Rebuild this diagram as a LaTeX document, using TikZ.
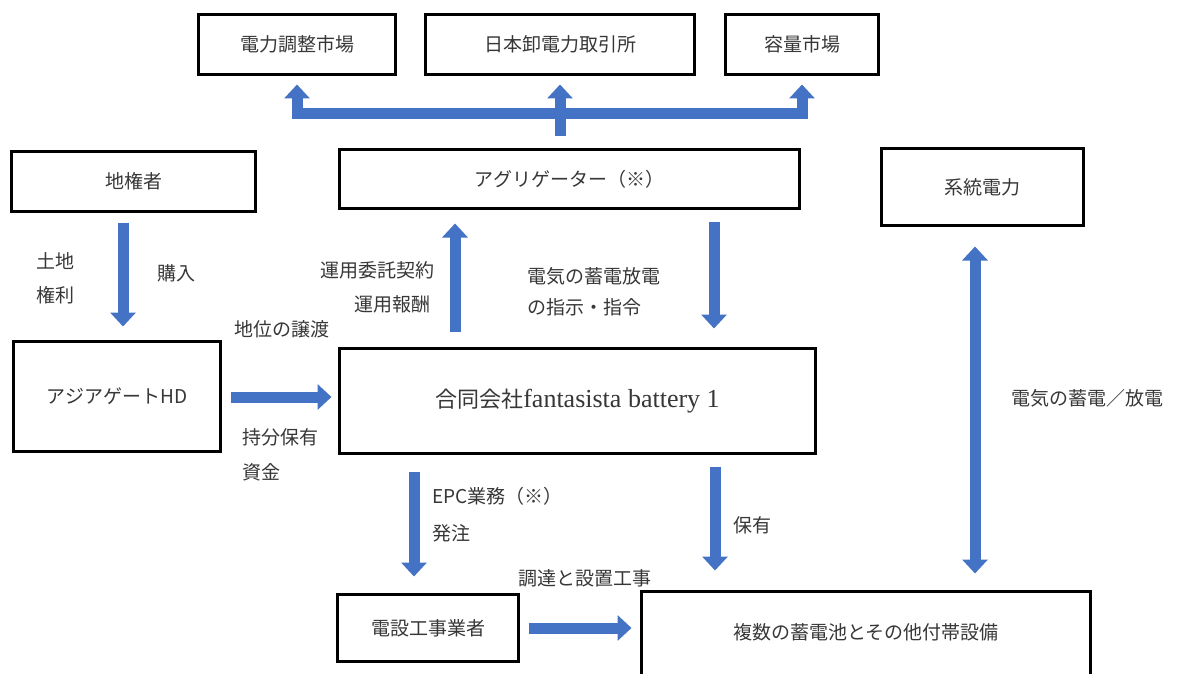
\documentclass[tikz,border=0pt]{standalone}
\usepackage{fontspec}
\newfontfamily\jp{Noto Sans CJK JP}
\newfontfamily\lat{Liberation Serif}
\usetikzlibrary{arrows.meta,calc}
\definecolor{arrowblue}{RGB}{68,114,196}
\definecolor{txt}{RGB}{55,55,55}
\begin{document}
\begin{tikzpicture}[x=1pt,y=-1pt,
  box/.style={draw=black, line width=3pt, rectangle, inner sep=0pt, fill=white,
    font=\jp\fontsize{19}{23}\selectfont, text=txt},
  lbl/.style={inner sep=0pt, font=\jp\fontsize{19}{23}\selectfont, text=txt},
  barrow/.style={draw=arrowblue, line width=11pt, -{Triangle[width=25pt,length=14pt]}},
  dbarrow/.style={draw=arrowblue, line width=11pt, {Triangle[width=25pt,length=14pt]}-{Triangle[width=25pt,length=14pt]}},
  bline/.style={draw=arrowblue, line width=11pt},
]
\useasboundingbox (0,0) rectangle (1178,674);
\clip (0,0) rectangle (1178,674);
\fill[white] (0,0) rectangle (1178,674);

% boxes
\node[box, minimum width=197pt, minimum height=60pt] (ch) at (297,44.5) {電力調整市場};
\node[box, minimum width=269pt, minimum height=60pt] (jepx) at (560,44.5) {日本卸電力取引所};
\node[box, minimum width=153pt, minimum height=60pt] (yoryo) at (802,44.5) {容量市場};
\node[box, minimum width=460pt, minimum height=59pt] (agg) at (569.5,179) {アグリゲーター（※）};
\node[box, minimum width=244pt, minimum height=60pt] (jisha) at (133.5,181.5) {地権者};
\node[box, minimum width=202pt, minimum height=77pt] (keito) at (982.5,187) {系統電力};
\node[box, minimum width=207pt, minimum height=110pt] (ahd) at (117,396.5) {アジアゲートHD};
\node[box, minimum width=476pt, minimum height=105pt] (ff) at (577.5,401)
  {\fontsize{22}{26}\selectfont 合同会社{\lat\fontsize{26}{30}\selectfont fantasista battery 1}};
\node[box, minimum width=181pt, minimum height=67pt] (dk) at (428,628) {電設工事業者};
\node[box, minimum width=449pt, minimum height=120pt] (bat) at (866,651.5) {};
\node[lbl] (batlbl) at ([yshift=-42pt]bat.north) {複数の蓄電池とその他付帯設備};

% market distribution arrows
\path (jepx.south) ++(0,37.5) coordinate (bus);
\draw[bline, line cap=rect] (ch.south |- bus) -- (yoryo.south |- bus);
\draw[bline, shorten >=11.5pt] (bus) -- (agg.north -| bus);
\draw[barrow] (ch.south |- bus) -- ([yshift=-8.5pt]ch.south);
\draw[barrow] (bus) -- ([yshift=-8.5pt]jepx.south);
\draw[barrow] (yoryo.south |- bus) -- ([yshift=-8.5pt]yoryo.south);

% other arrows
\draw[barrow] ([xshift=-10.5pt,yshift=-9.5pt]jisha.south) -- ([xshift=6pt,yshift=13.5pt]ahd.north);
\draw[barrow] ([xshift=8.5pt,yshift=-0.5pt]ahd.east) -- ([xshift=-6.5pt,yshift=4pt]ff.west);
\draw[barrow] ([xshift=-122.5pt,yshift=15.5pt]ff.north) -- ([xshift=-114.5pt,yshift=-13.5pt]agg.south);
\draw[barrow] ([xshift=144.5pt,yshift=-11.5pt]agg.south) -- ([xshift=136.5pt,yshift=18.5pt]ff.north);
\draw[barrow] ([xshift=-163.5pt,yshift=-16.5pt]ff.south) -- ([xshift=-14pt,yshift=16.5pt]dk.north);
\draw[barrow] ([xshift=137.5pt,yshift=-11.5pt]ff.south) -- ([xshift=-151pt,yshift=19.5pt]bat.north);
\draw[barrow] ([xshift=8.5pt]dk.east) -- ([xshift=-8.5pt,yshift=23.5pt]bat.west);
\draw[dbarrow] ([xshift=-7.5pt,yshift=-19.5pt]keito.south) -- ([xshift=109pt,yshift=16.5pt]bat.north);

% labels
\node[lbl] (l1) at (55,261) {土地};
\node[lbl] (l2) at (55,295) {権利};
\node[lbl] (l3) at (176,273) {購入};
\node[lbl] (l4) at (377,270) {運用委託契約};
\node[lbl] (l5) at (392,304) {運用報酬};
\node[lbl, anchor=west] (l6) at (527,276) {電気の蓄電放電};
\node[lbl, anchor=west] (l7) at (527,307) {の指示・指令};
\node[lbl] (l8) at (282,329) {地位の譲渡};
\node[lbl, anchor=west] (l9) at (242,437) {持分保有};
\node[lbl, anchor=west] (l10) at (242,472) {資金};
\node[lbl, anchor=west] (l11) at (432,496) {EPC業務（※）};
\node[lbl, anchor=west] (l12) at (432,533) {発注};
\node[lbl, anchor=west] (l13) at (733,525) {保有};
\node[lbl] (l14) at (585,578) {調達と設置工事};
\node[lbl] (l15) at (1087,398) {電気の蓄電／放電};
\end{tikzpicture}
\end{document}
